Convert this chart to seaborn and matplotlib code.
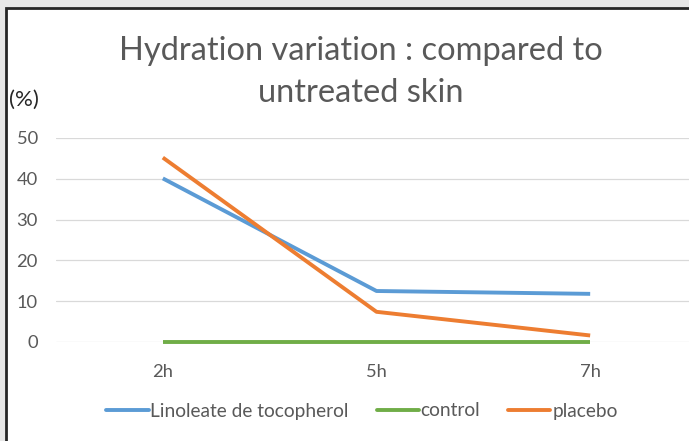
import pandas as pd
import matplotlib.pyplot as plt
import seaborn as sns
from matplotlib.patches import Rectangle

# ----------------- Data -----------------
times = ["2h", "5h", "7h"]
linoleate = [40.1, 12.5, 11.8]
control = [0.0, 0.0, 0.0]
placebo = [45.2, 7.4, 1.6]
series_names = ["Linoleate de tocopherol", "control", "placebo"]
y_ticks = [0, 10, 20, 30, 40, 50]

df = pd.DataFrame({
    "time": times * 3,
    "value": linoleate + control + placebo,
    "series": [series_names[0]] * 3 + [series_names[1]] * 3 + [series_names[2]] * 3,
})

# ----------------- Plot -----------------
sns.set_theme(style="white")
plt.rcParams["font.family"] = ["Lato", "DejaVu Sans"]
text_gray = "#595959"

fig = plt.figure(figsize=(6.89, 4.41), dpi=100, facecolor="#E7E7E7")
W, H = 689, 441
# white chart area with dark border (top / left visible)
fig.patches.append(Rectangle((6 / W, -0.1), 1.2, 1.1 - 8 / H, transform=fig.transFigure,
                             facecolor="white", edgecolor="#262626", linewidth=2, zorder=-10))

ax = fig.add_axes([56 / W, 1 - 342 / H, (697 - 56) / W, (342 - 138) / H])
ax.set_zorder(2)
ax.set_facecolor("none")

palette = {"Linoleate de tocopherol": "#5B9BD5", "control": "#70AD47", "placebo": "#ED7D31"}
sns.lineplot(data=df, x="time", y="value", hue="series", hue_order=series_names,
             palette=palette, sort=False, linewidth=2.8, ax=ax, legend=False)
for line in ax.lines:
    line.set_clip_on(False)
    line.set_solid_capstyle("butt")

ax.set_xlim(-0.5, 2.5)
ax.set_ylim(0, 50)
ax.set_yticks(y_ticks)
ax.grid(axis="y", color="#D9D9D9", linewidth=0.9)
ax.set_axisbelow(True)
for s in ax.spines.values():
    s.set_visible(False)
ax.tick_params(axis="y", length=0, pad=13, labelsize=13.2, labelcolor=text_gray)
ax.tick_params(axis="x", length=0, pad=16, labelsize=13.2, labelcolor=text_gray)
ax.set_xlabel("")
ax.set_ylabel("")

fig.text(361 / W, 1 - 72 / H, "Hydration variation : compared to\nuntreated skin",
         ha="center", va="center", fontsize=23.5, color=text_gray, linespacing=1.5)
fig.text(9 / W, 1 - 100 / H, "(%)", ha="left", va="center", fontsize=16, color="#262626")

handles = [plt.Line2D([], [], color=palette[n], linewidth=2.8) for n in series_names]
fig.legend(handles, series_names, loc="center", bbox_to_anchor=(362 / W, 1 - 411 / H),
           ncol=3, frameon=False, fontsize=13.8, labelcolor=text_gray,
           handlelength=2.2, handletextpad=0.1, columnspacing=1.45)

plt.savefig("out.png", dpi=100)
plt.close()
